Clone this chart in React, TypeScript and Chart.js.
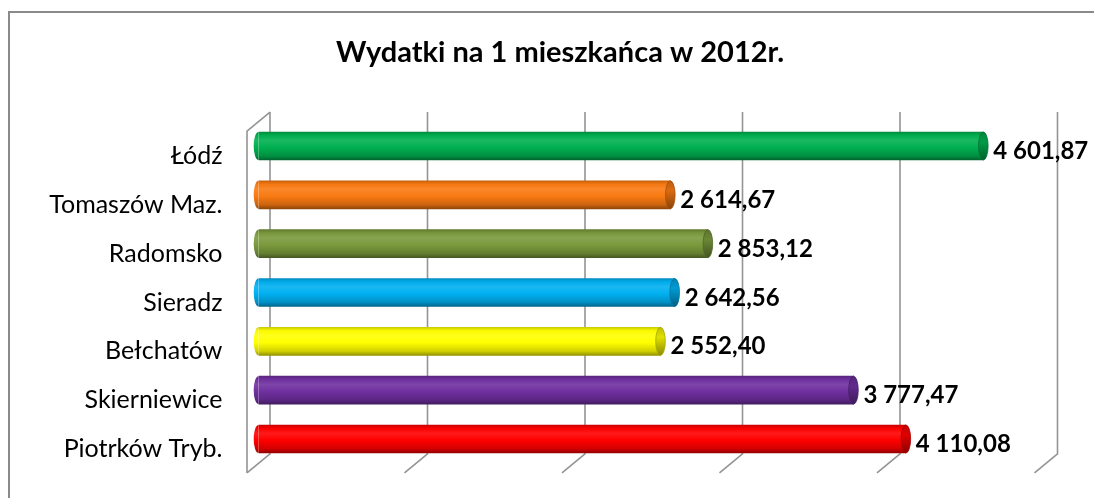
import React, { useEffect, useRef } from "react";
import { Chart, registerables } from "chart.js";

Chart.register(...registerables);

const title = "Wydatki na 1 mieszkańca w 2012r.";
const categories = [
  "Łódź",
  "Tomaszów Maz.",
  "Radomsko",
  "Sieradz",
  "Bełchatów",
  "Skierniewice",
  "Piotrków Tryb.",
];
const values = [4601.87, 2614.67, 2853.12, 2642.56, 2552.4, 3777.47, 4110.08];
const barColors = [
  "#00B050",
  "#F97A12",
  "#7A9A3C",
  "#00B0F0",
  "#FFFF00",
  "#7030A0",
  "#FF0000",
];
const axisMin = 0;
const axisMax = 5000;
const axisStep = 1000;

const DEPTH_X = 11.5;
const DEPTH_Y = 9.5;
const CAP_RX = 4.8;

function hexToRgb(hex: string): [number, number, number] {
  const h = hex.replace("#", "");
  return [
    parseInt(h.slice(0, 2), 16),
    parseInt(h.slice(2, 4), 16),
    parseInt(h.slice(4, 6), 16),
  ];
}
function adjust(hex: string, amt: number): string {
  const [r, g, b] = hexToRgb(hex);
  const f = (c: number) =>
    Math.round(amt >= 0 ? c + (255 - c) * amt : c * (1 + amt));
  return `rgb(${f(r)},${f(g)},${f(b)})`;
}

function formatPL(v: number): string {
  const [int, dec] = v.toFixed(2).split(".");
  const withSpaces = int.replace(/\B(?=(\d{3})+(?!\d))/g, " ");
  return `${withSpaces},${dec}`;
}

function bodyGradient(ctx: CanvasRenderingContext2D, color: string, top: number, bottom: number) {
  const g = ctx.createLinearGradient(0, top, 0, bottom);
  g.addColorStop(0, adjust(color, -0.2));
  g.addColorStop(0.12, adjust(color, -0.02));
  g.addColorStop(0.3, adjust(color, 0.1));
  g.addColorStop(0.55, color);
  g.addColorStop(0.85, adjust(color, -0.18));
  g.addColorStop(1, adjust(color, -0.42));
  return g;
}

const framePlugin = {
  id: "frame3d",
  beforeDraw(chart: any) {
    const ctx = chart.ctx;
    ctx.save();
    ctx.fillStyle = "#ffffff";
    ctx.fillRect(0, 0, chart.width, chart.height);
    ctx.strokeStyle = "#8a8a8a";
    ctx.lineWidth = 2;
    ctx.beginPath();
    ctx.moveTo(9, chart.height + 5);
    ctx.lineTo(9, 12);
    ctx.lineTo(chart.width + 5, 12);
    ctx.stroke();
    ctx.fillStyle = "#000";
    ctx.font = "bold 29px Lato";
    ctx.textAlign = "center";
    ctx.textBaseline = "alphabetic";
    ctx.fillText(title, 560, 62);
    ctx.restore();
  },
  beforeDatasetsDraw(chart: any) {
    const ctx = chart.ctx;
    const xs = chart.scales.x;
    const { top, bottom } = chart.chartArea;
    ctx.save();
    ctx.strokeStyle = "#949494";
    ctx.lineWidth = 1.6;
    ctx.beginPath();
    for (let v = axisMin; v <= axisMax; v += axisStep) {
      const px = xs.getPixelForValue(v);
      ctx.moveTo(px + DEPTH_X, top - DEPTH_Y);
      ctx.lineTo(px + DEPTH_X, bottom - DEPTH_Y);
      ctx.lineTo(px - DEPTH_X, bottom + DEPTH_Y);
    }
    const p0 = xs.getPixelForValue(axisMin);
    ctx.moveTo(p0 + DEPTH_X, top - DEPTH_Y);
    ctx.lineTo(p0 - DEPTH_X, top + DEPTH_Y);
    ctx.lineTo(p0 - DEPTH_X, bottom + DEPTH_Y);
    ctx.stroke();
    ctx.restore();
  },
  afterDatasetsDraw(chart: any) {
    const ctx = chart.ctx;
    const meta = chart.getDatasetMeta(0);
    ctx.save();
    meta.data.forEach((bar: any, i: number) => {
      const color = barColors[i];
      const h = bar.height;
      if (!isFinite(bar.y) || !isFinite(h)) return;
      const yTop = bar.y - h / 2;
      const yBot = bar.y + h / 2;
      ctx.beginPath();
      ctx.ellipse(bar.base, bar.y, CAP_RX, h / 2, 0, Math.PI / 2, (3 * Math.PI) / 2);
      ctx.closePath();
      ctx.fillStyle = bodyGradient(ctx, color, yTop, yBot);
      ctx.fill();
      ctx.beginPath();
      ctx.ellipse(bar.x, bar.y, CAP_RX, h / 2, 0, 0, Math.PI * 2);
      const cg = ctx.createLinearGradient(0, yTop, 0, yBot);
      cg.addColorStop(0, adjust(color, -0.25));
      cg.addColorStop(0.35, adjust(color, -0.12));
      cg.addColorStop(1, adjust(color, -0.45));
      ctx.fillStyle = cg;
      ctx.fill();
      ctx.lineWidth = 0.8;
      ctx.strokeStyle = adjust(color, -0.35);
      ctx.stroke();
      ctx.fillStyle = "#000";
      ctx.font = "bold 24px Lato";
      ctx.textAlign = "left";
      ctx.textBaseline = "alphabetic";
      ctx.fillText(formatPL(values[i]), bar.x + 10, bar.y + 13);
    });
    ctx.restore();
  },
};

export default function App() {
  const canvasRef = useRef<HTMLCanvasElement | null>(null);

  useEffect(() => {
    if (!canvasRef.current) return;
    const chart = new Chart(canvasRef.current, {
      type: "bar",
      data: {
        labels: categories,
        datasets: [
          {
            data: values,
            barThickness: 28,
            borderWidth: 0,
            backgroundColor: (c: any) => {
              const chartRef = c.chart;
              const ys = chartRef.scales && chartRef.scales.y;
              const color = barColors[c.dataIndex] || "#999";
              if (!ys || c.dataIndex === undefined) return color;
              const y = ys.getPixelForValue(c.dataIndex);
              if (!isFinite(y)) return color;
              return bodyGradient(chartRef.ctx, color, y - 14, y + 14);
            },
          },
        ],
      },
      options: {
        indexAxis: "y",
        animation: false,
        responsive: false,
        layout: { padding: { top: 121.6, bottom: 34.6, right: 48, left: 0 } },
        plugins: {
          legend: { display: false },
          tooltip: { enabled: false },
          title: { display: false },
        },
        scales: {
          x: {
            display: false,
            min: axisMin,
            max: axisMax,
            ticks: { stepSize: axisStep },
          },
          y: {
            grid: { display: false, drawTicks: false },
            border: { display: false },
            ticks: {
              color: "#000",
              font: { family: "Lato", size: 25 },
              padding: 36,
              labelOffset: 10,
            },
            afterFit: (scale: any) => {
              scale.width = 258.5;
              scale.paddingTop = 0;
              scale.paddingBottom = 0;
            },
          },
        },
      },
      plugins: [framePlugin],
    });
    return () => chart.destroy();
  }, []);

  return (
    <canvas
      ref={canvasRef}
      width={1094}
      height={498}
      style={{ position: "fixed", left: 0, top: 0, display: "block" }}
    />
  );
}
